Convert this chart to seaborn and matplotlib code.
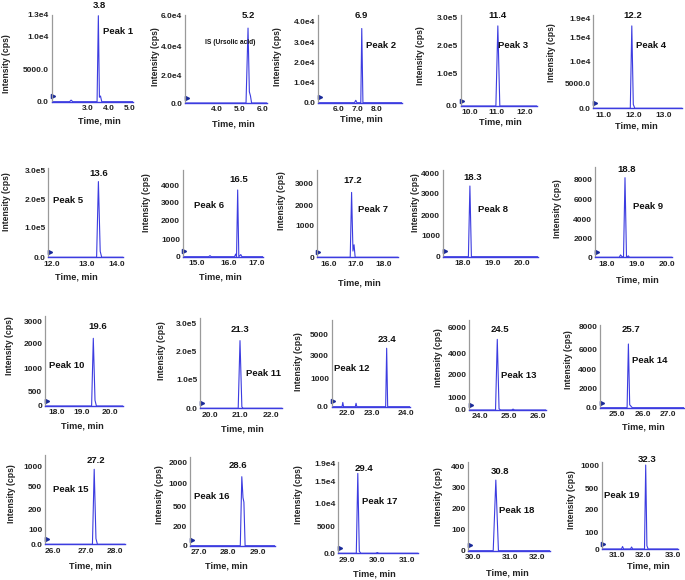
import numpy as np
import matplotlib
matplotlib.use("Agg")
import matplotlib.pyplot as plt
import seaborn as sns

# ---------------- data ----------------
peak_names = ["Peak 1", "IS (Ursolic acid)", "Peak 2", "Peak 3", "Peak 4",
              "Peak 5", "Peak 6", "Peak 7", "Peak 8", "Peak 9",
              "Peak 10", "Peak 11", "Peak 12", "Peak 13", "Peak 14",
              "Peak 15", "Peak 16", "Peak 17", "Peak 18", "Peak 19"]
rt_text = ["3.8", "5.2", "6.9", "11.4", "12.2",
           "13.6", "16.5", "17.2", "18.3", "18.8",
           "19.6", "21.3", "23.4", "24.5", "25.7",
           "27.2", "28.6", "29.4", "30.8", "32.3"]
has_time_label = [1, 1, 1, 1, 1,
                  1, 1, 1, 0, 1,
                  1, 1, 0, 0, 1,
                  1, 1, 1, 1, 1]

x_ticks = [[3.0, 4.0, 5.0], [4.0, 5.0, 6.0], [6.0, 7.0, 8.0], [10.0, 11.0, 12.0], [11.0, 12.0, 13.0],
           [12.0, 13.0, 14.0], [15.0, 16.0, 17.0], [16.0, 17.0, 18.0], [18.0, 19.0, 20.0], [18.0, 19.0, 20.0],
           [18.0, 19.0, 20.0], [20.0, 21.0, 22.0], [22.0, 23.0, 24.0], [24.0, 25.0, 26.0], [25.0, 26.0, 27.0],
           [26.0, 27.0, 28.0], [27.0, 28.0, 29.0], [29.0, 30.0, 31.0], [30.0, 31.0, 32.0], [31.0, 32.0, 33.0]]

y_ticks = [[0, 5000, 10000, 13000], [0, 20000, 40000, 60000], [0, 10000, 20000, 30000, 40000],
           [0, 100000, 200000, 300000], [0, 5000, 10000, 15000, 19000],
           [0, 100000, 200000, 300000], [0, 1000, 2000, 3000, 4000], [0, 1000, 2000, 3000],
           [0, 1000, 2000, 3000, 4000], [0, 2000, 4000, 6000, 8000],
           [0, 500, 1000, 2000, 3000], [0, 100000, 200000, 300000], [0, 1000, 3000, 5000],
           [0, 1000, 2000, 4000, 6000], [0, 2000, 4000, 6000, 8000],
           [0, 100, 200, 500, 1000], [0, 200, 500, 1000, 2000], [0, 5000, 10000, 15000, 19000],
           [0, 100, 200, 300, 400], [0, 100, 200, 500, 1000]]

y_tick_labels = [["0.0", "5000.0", "1.0e4", "1.3e4"], ["0.0", "2.0e4", "4.0e4", "6.0e4"],
                 ["0.0", "1.0e4", "2.0e4", "3.0e4", "4.0e4"], ["0.0", "1.0e5", "2.0e5", "3.0e5"],
                 ["0.0", "5000.0", "1.0e4", "1.5e4", "1.9e4"],
                 ["0.0", "1.0e5", "2.0e5", "3.0e5"], ["0", "1000", "2000", "3000", "4000"],
                 ["0", "1000", "2000", "3000"], ["0", "1000", "2000", "3000", "4000"],
                 ["0", "2000", "4000", "6000", "8000"],
                 ["0", "500", "1000", "2000", "3000"], ["0.0", "1.0e5", "2.0e5", "3.0e5"],
                 ["0.0", "1000", "3000", "5000"], ["0.0", "1000", "2000", "4000", "6000"],
                 ["0.0", "2000", "4000", "6000", "8000"],
                 ["0.0", "100", "200", "500", "1000"], ["0", "200", "500", "1000", "2000"],
                 ["0.0", "5000", "1.0e4", "1.5e4", "1.9e4"], ["0", "100", "200", "300", "400"],
                 ["0", "100", "200", "500", "1000"]]

# chromatogram traces: time (min) and intensity (cps)
trace_t = [
    [1.3, 2.15, 2.22, 2.3, 3.44, 3.50, 3.55, 3.60, 3.66, 5.3],
    [2.6, 5.27, 5.36, 5.42, 5.47, 5.52, 6.3],
    [4.9, 6.85, 6.92, 6.98, 7.18, 7.23, 7.29, 9.4],
    [9.6, 10.97, 11.04, 11.11, 12.5],
    [10.6, 11.90, 11.95, 12.00, 12.05, 13.7],
    [11.8, 13.33, 13.39, 13.45, 13.50, 14.3],
    [14.5, 15.38, 15.42, 15.46, 16.22, 16.26, 16.29, 16.33, 16.37, 16.44, 16.48, 17.3],
    [15.5, 16.80, 16.85, 16.90, 16.94, 16.98, 18.6],
    [17.3, 18.19, 18.24, 18.29, 20.6],
    [17.6, 18.42, 18.46, 18.50, 18.56, 18.61, 18.66, 18.72, 18.76, 20.2],
    [17.5, 19.35, 19.41, 19.47, 19.52, 20.5],
    [19.6, 20.94, 21.00, 21.06, 21.10, 22.4],
    [21.4, 21.79, 21.82, 21.85, 22.32, 22.35, 22.38, 23.40, 23.43, 23.46, 24.2],
    [23.6, 24.53, 24.59, 24.65, 24.70, 25.08, 25.13, 25.18, 26.3],
    [24.3, 25.40, 25.45, 25.50, 25.55, 25.60, 27.7],
    [25.7, 27.23, 27.29, 27.35, 27.40, 28.4],
    [26.7, 28.40, 28.45, 28.49, 28.52, 28.56, 29.6],
    [28.7, 29.30, 29.35, 29.40, 29.45, 29.95, 30.00, 30.05, 31.4],
    [29.8, 30.55, 30.62, 30.69, 32.5],
    [30.4, 31.18, 31.22, 31.26, 31.52, 31.56, 31.60, 32.04, 32.08, 32.12, 32.16, 33.2],
]
trace_i = [
    [0, 0, 250, 0, 0, 12900, 700, 900, 0, 0],
    [0, 0, 52000, 8000, 5000, 0, 0],
    [0, 0, 1200, 0, 0, 36700, 0, 0],
    [0, 0, 269000, 0, 0],
    [0, 0, 17400, 800, 0, 0],
    [0, 0, 262000, 20000, 0, 0],
    [0, 0, 60, 0, 0, 150, 0, 3720, 0, 120, 0, 0],
    [0, 0, 2600, 200, 400, 0, 0],
    [0, 0, 3400, 0, 0],
    [0, 0, 250, 100, 0, 8130, 0, 150, 0, 0],
    [0, 0, 2255, 200, 0, 0],
    [0, 0, 239000, 5000, 0, 0],
    [0, 0, 150, 0, 0, 120, 0, 0, 3650, 0, 0],
    [0, 0, 5090, 100, 0, 0, 70, 0, 0],
    [0, 0, 6515, 300, 150, 0, 0],
    [0, 0, 935, 40, 0, 0],
    [0, 0, 1336, 700, 600, 0, 0],
    [0, 0, 16800, 400, 0, 0, 150, 0, 0],
    [0, 0, 335, 0, 0],
    [0, 0, 15, 0, 0, 12, 0, 0, 1015, 20, 0, 0],
]

# ---------------- layout (pixels in the 685x580 canvas) ----------------
W, H = 685, 580
box = [(51.7, 15, 133, 101.7), (185, 15, 267, 103), (318, 15, 402, 102.7),
       (460.7, 15, 536.7, 106), (593.3, 15, 681.7, 108.3),
       (48.3, 168.3, 123.3, 257.3), (182.7, 170, 263.3, 256.7), (316.7, 170, 398.3, 257.3),
       (442.7, 170, 538.3, 256.7), (595, 166.7, 671.7, 257.3),
       (45, 316, 123.3, 406), (200, 318.3, 282, 408.3), (331.7, 320, 410, 406.7),
       (469.3, 320, 546, 410), (600, 325, 684, 407.7),
       (45, 455, 125, 544.3), (190, 456.7, 275, 545.7), (338.3, 461.7, 418.3, 553.3),
       (468.3, 461.7, 550, 550.7), (601.7, 461.7, 678.3, 549)]
xtick_px = [(87.7, 109, 130), (216.7, 240, 262.3), (338.3, 357.3, 376.7),
            (469.3, 496.7, 525), (603.3, 633.3, 663.3),
            (51.7, 86.7, 116.7), (196.7, 228.3, 256.7), (328.3, 355.7, 383.3),
            (462.7, 492.7, 521.7), (606.7, 636.7, 666.7),
            (56.7, 81.7, 110), (210, 240, 271), (347.3, 372.3, 405.7),
            (480, 509.3, 538.3), (616.7, 642.7, 668.3),
            (53.3, 85.7, 115), (199, 228.3, 258.3), (347.3, 377.3, 407.3),
            (472.7, 510, 537.3), (616.7, 643.3, 673.3)]
ytick_px = [(70, 36.7, 15), (75, 46.7, 15.7), (82.7, 62.7, 42.3, 21.7),
            (74, 45, 17.3), (84, 61.7, 37.3, 18.3),
            (227.3, 199.3, 170.7), (239, 220.7, 202.7, 185), (226, 205, 184),
            (235.7, 215, 194, 174), (238.3, 219, 199, 179),
            (391.7, 368.3, 344, 321.7), (380, 351.7, 323.3), (378.3, 355, 334.3),
            (397.3, 374.3, 353.3, 327.7), (388.3, 369.3, 350, 326.7),
            (530, 509, 486.7, 466.7), (526.7, 506.7, 484, 462.3), (526.7, 504, 481.7, 463.3),
            (529.3, 508.3, 487.3, 466.7), (532.3, 510, 488.3, 465.7)]
rt_pos = [(99, 6), (248, 16), (361.7, 15), (497.7, 15), (632.3, 15),
          (98.3, 174), (238.3, 180), (352.7, 180.7), (472.3, 177.3), (626.7, 169.3),
          (97.7, 326.7), (240, 330), (386.7, 340), (500, 330), (630.7, 330),
          (96, 460.7), (237.7, 465.7), (364.3, 468.3), (500, 471.7), (647.3, 459.3)]
name_pos = [(118, 32), (230, 43), (381, 45.7), (513, 45.7), (651, 45.7),
            (68.3, 200.7), (209.3, 205), (373.3, 210), (493.3, 210), (648.3, 206.7),
            (66.7, 365), (263, 374), (351.7, 368.3), (518.3, 375), (650, 360.7),
            (70.7, 490), (211.7, 496.7), (380, 501.7), (516.7, 510.7), (621.7, 496)]
ylab_pos = [(7, 64), (155.5, 57), (278, 57), (420.5, 56), (551.7, 53),
            (6.7, 202), (146.7, 203), (281.7, 201), (415.5, 203), (558, 209),
            (10, 346), (161.5, 351), (298.3, 362), (439, 358), (568.3, 360),
            (11.7, 494), (160, 495), (298.3, 495), (438.3, 497), (571.7, 500)]
xlab_pos = [(99, 121), (233, 124), (361.7, 119), (500.7, 121.7), (636.7, 126),
            (76.7, 276.7), (220.7, 276.7), (359, 283), None, (637.3, 280),
            (82.3, 425.7), (242.3, 429), None, None, (643.3, 426.7),
            (90, 566), (226.7, 565.7), (374, 574), (507.3, 573.3), (648.3, 566)]

TRACE = "#3c3ce0"
SPINE = "#9a9a9a"

sns.set_theme(style="white")
plt.rcParams['font.family'] = ['Liberation Sans', 'DejaVu Sans']
plt.rcParams['font.weight'] = 'bold'
plt.rcParams['axes.labelweight'] = 'bold'


def piecewise(xs, ys):
    xs = np.asarray(xs, float)
    ys = np.asarray(ys, float)
    s0 = (ys[1] - ys[0]) / (xs[1] - xs[0])
    s1 = (ys[-1] - ys[-2]) / (xs[-1] - xs[-2])

    def f(v):
        v = np.asarray(v, float)
        out = np.interp(v, xs, ys)
        out = np.where(v < xs[0], ys[0] + (v - xs[0]) * s0, out)
        out = np.where(v > xs[-1], ys[-1] + (v - xs[-1]) * s1, out)
        return out
    return f


def fx(px):
    return px / W


def fy(py):
    return 1 - py / H


fig = plt.figure(figsize=(W / 100, H / 100), dpi=100)
fig.patch.set_facecolor("white")

for k in range(len(peak_names)):
    L, T, R, B = box[k]
    ax = fig.add_axes([fx(L), fy(B), (R - L) / W, (B - T) / H])
    ax.set_facecolor("none")

    # x scale (screen-faithful tick spacing)
    xfwd = piecewise(x_ticks[k], xtick_px[k])
    xinv = piecewise(xtick_px[k], x_ticks[k])
    ax.set_xscale("function", functions=(xfwd, xinv))
    # y scale (the instrument software's uneven tick spacing)
    heights = [0.0] + [B - p for p in ytick_px[k]]
    yfwd = piecewise(y_ticks[k], heights)
    yinv = piecewise(heights, y_ticks[k])
    ax.set_yscale("function", functions=(yfwd, yinv))

    sns.lineplot(x=trace_t[k], y=trace_i[k], ax=ax, color=TRACE, lw=0.8,
                 estimator=None, sort=False)

    ax.set_xlim(float(xinv(L)), float(xinv(R)))
    ax.set_ylim(float(yinv(0.0)), float(yinv(B - T)))
    ax.set_xticks(x_ticks[k])
    ax.set_xticklabels([f"{v:.1f}" for v in x_ticks[k]])
    ax.set_yticks(y_ticks[k])
    ax.set_yticklabels(y_tick_labels[k])
    ax.minorticks_off()
    ax.tick_params(axis="both", length=0, labelsize=6.0, colors="#222222")
    ax.tick_params(axis="x", pad=2.5)
    ax.tick_params(axis="y", pad=2.0)
    ax.set_xlabel("")
    ax.set_ylabel("")
    for s in ("top", "right"):
        ax.spines[s].set_visible(False)
    ax.spines["left"].set_color(SPINE)
    ax.spines["left"].set_linewidth(0.9)
    ax.spines["bottom"].set_color(TRACE)
    ax.spines["bottom"].set_linewidth(1.0)
    ax.plot([0.02], [0.06], marker=">", ms=3, color="#1a2a99",
            transform=ax.transAxes, clip_on=False)

    # texts
    x, y = rt_pos[k]
    fig.text(fx(x), fy(y), rt_text[k], ha="center", va="center", fontsize=6.8,
             color="#111111")
    x, y = name_pos[k]
    fs = 4.8 if k == 1 else 6.8
    fig.text(fx(x), fy(y), peak_names[k], ha="center", va="center", fontsize=fs,
             color="#111111")
    x, y = ylab_pos[k]
    fig.text(fx(x), fy(y), "Intensity (cps)", ha="center", va="center",
             rotation=90, fontsize=6.2, color="#222222")
    if has_time_label[k]:
        x, y = xlab_pos[k]
        fig.text(fx(x), fy(y), "Time, min", ha="center", va="center",
                 fontsize=6.6, color="#222222")

fig.savefig("out.png", dpi=100, facecolor="white")
